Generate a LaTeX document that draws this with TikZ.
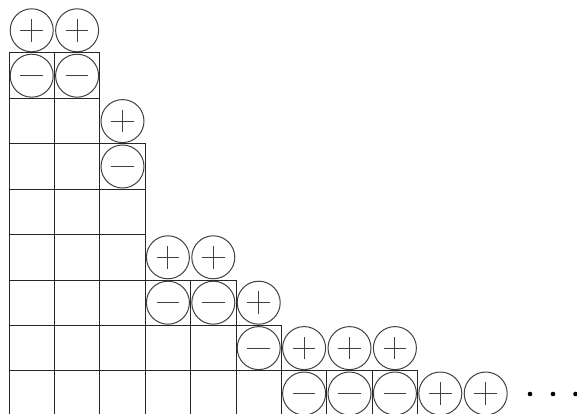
\documentclass[tikz,border=0pt]{standalone}
\begin{document}
\begin{tikzpicture}[x=1pt,y=-1pt,
  cellbox/.style={minimum size=45.4pt,inner sep=0pt,outer sep=0pt},
  gridline/.style={draw=black!85,line width=1pt,line cap=rect},
  sgn/.style={circle,draw=black!75,line width=1pt,minimum size=43pt,inner sep=0pt},
  plussign/.style={sgn,path picture={
     \draw[black!75,line width=1pt] ([xshift=-11.3pt]path picture bounding box.center) -- ([xshift=11.3pt]path picture bounding box.center);
     \draw[black!75,line width=1pt] ([yshift=-11.3pt]path picture bounding box.center) -- ([yshift=11.3pt]path picture bounding box.center);}},
  minussign/.style={sgn,path picture={
     \draw[black!75,line width=1pt] ([xshift=-11.3pt]path picture bounding box.center) -- ([xshift=11.3pt]path picture bounding box.center);}},
  dotmark/.style={circle,fill=black,inner sep=0pt,minimum size=4.6pt}]
\useasboundingbox (0,0) rectangle (577,414);
\clip (0,0) rectangle (577,414);
% grid cells (named, drawn by lines below): row / last column
\foreach \r/\n in {0/1,1/1,2/2,3/2,4/2,5/4,6/5,7/8}{
  \foreach \j in {0,...,\n}{
    \node[cellbox] (c-\j-\r) at ({31.7+45.4*\j},{75.7+45.4*\r}) {};
  }
}
% horizontal lines: row / last column
\foreach \r/\n in {0/1,1/1,2/2,3/2,4/2,5/4,6/5,7/8}{
  \draw[gridline] (c-0-\r.north west) -- (c-\n-\r.north east);
}
% vertical lines
\draw[gridline] (c-0-0.north west) -- (c-0-7.south west);
\foreach \j/\r in {0/0,1/0,2/2,3/5,4/5,5/6,6/7,7/7,8/7}{
  \draw[gridline] (c-\j-\r.north east) -- (c-\j-7.south east);
}
% plus circles
\foreach \j/\r [count=\k] in {0/-1,1/-1,2/1,3/4,4/4,5/5,6/6,7/6,8/6,9/7,10/7}{
  \node[plussign] (p\k) at ({31.7+45.4*\j},{75.7+45.4*\r}) {};
}
% minus circles
\foreach \j/\r [count=\k] in {0/0,1/0,2/2,3/5,4/5,5/6,6/7,7/7,8/7}{
  \node[minussign] (m\k) at ({31.7+45.4*\j},{75.7+45.4*\r}) {};
}
\node[dotmark] (d1) at (530,394) {};
\node[dotmark] (d2) at (553,394) {};
\node[dotmark] (d3) at (575.5,394) {};
\end{tikzpicture}
\end{document}
